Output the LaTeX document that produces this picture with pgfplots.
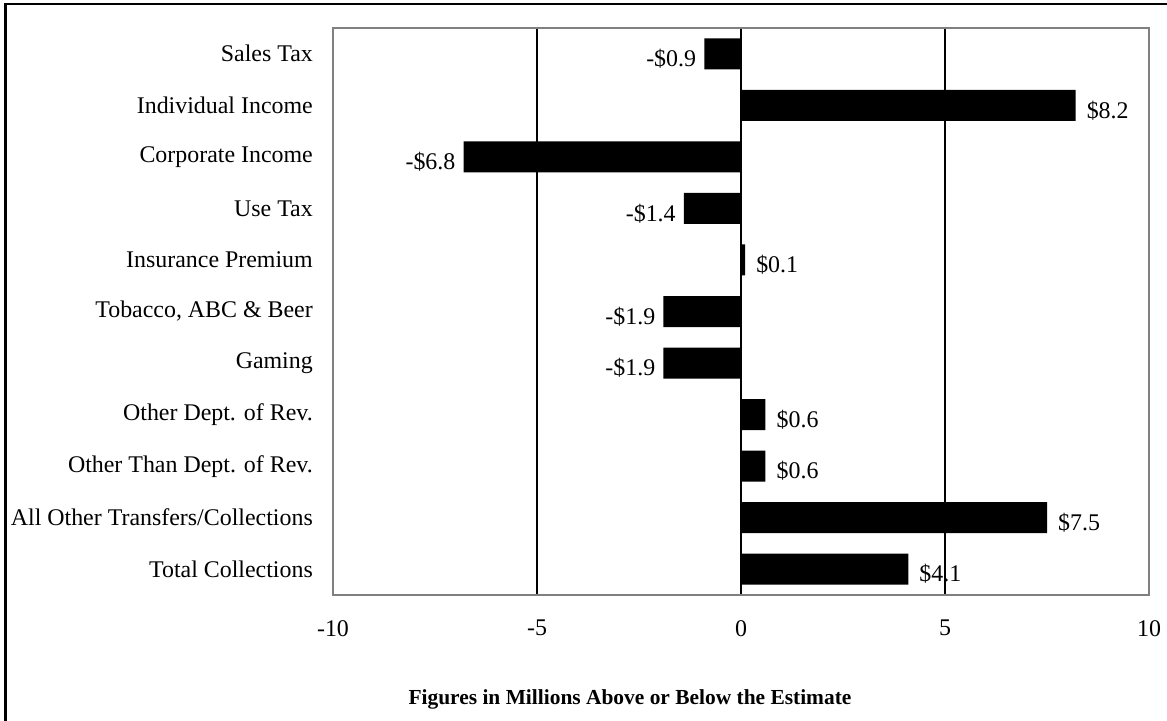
\documentclass[border=0pt]{standalone}
\usepackage{pgfplots}
\pgfplotsset{compat=1.18}
\usepackage{fontspec}
\setmainfont{Liberation Serif}
\begin{document}
\begin{tikzpicture}
\useasboundingbox (-333bp,-126bp) rectangle (834bp,595bp);
\begin{axis}[%
width=816bp,
height=567bp,
scale only axis,
xbar,
bar width=31bp,
bar shift=0pt,
xmin=-10,
xmax=10,
ymin=-0.5,
ymax=10.5,
y dir=reverse,
xtick={-10,-5,0,5,10},
minor xtick={-5,0,5},
xminorgrids,
minor grid style={black,line width=1.5bp},
ytick={0,...,10},
yticklabels={Sales Tax,Individual Income,Corporate Income,Use Tax,Insurance Premium,{Tobacco, ABC \& Beer},Gaming,Other Dept. of Rev.,Other Than Dept. of Rev.,All Other Transfers/Collections,Total Collections},
major tick length=0pt,
minor tick length=0pt,
axis line style={draw=black!50,line width=2bp},
tick label style={font=\fontsize{24}{28}\selectfont},
/pgf/number format/assume math mode=true,
yticklabel style={anchor=east,inner sep=0pt,xshift=-20bp},
xticklabel style={anchor=north,inner sep=0pt,yshift=-25bp},
point meta=explicit symbolic,
nodes near coords={\pgfplotspointmeta},
every node near coord/.append style={font=\fontsize{24}{28}\selectfont,inner sep=0pt,yshift=-5bp,text=black}
]
\addplot [fill=black,draw=none,every node near coord/.append style={anchor=east,xshift=-8bp}]
  coordinates {(-0.9,0)[-\$0.9] (-6.8,2)[-\$6.8] (-1.4,3)[-\$1.4] (-1.9,5)[-\$1.9] (-1.9,6)[-\$1.9]};
\addplot [fill=black,draw=none,every node near coord/.append style={anchor=west,xshift=11bp}]
  coordinates {(8.2,1)[\$8.2] (0.1,4)[\$0.1] (0.6,7)[\$0.6] (0.6,8)[\$0.6] (7.5,9)[\$7.5] (4.1,10)[\$4.1]};
\end{axis}
\node[font=\bfseries\fontsize{21.5}{25}\selectfont] at (297bp,-104bp) {Figures in Millions Above or Below the Estimate};
\draw[line width=2.6bp] (-327.7bp,-200bp) -- (-327.7bp,591bp) -- (900bp,591bp);
\end{tikzpicture}
\end{document}
